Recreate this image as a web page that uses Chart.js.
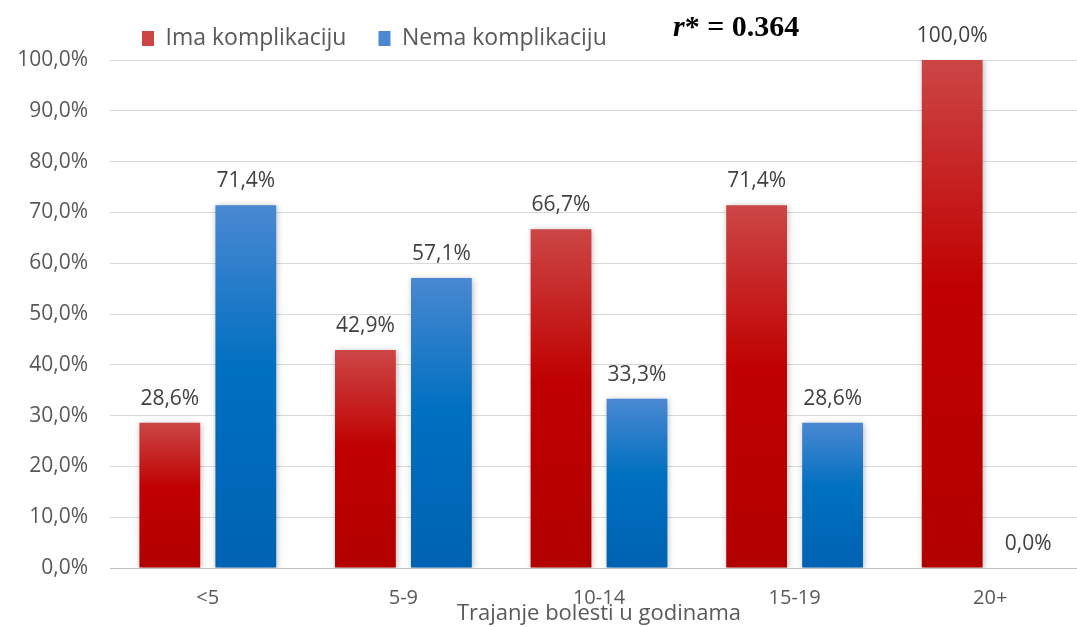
<!DOCTYPE html>
<html>
<head>
<meta charset="utf-8">
<script src="https://cdn.jsdelivr.net/npm/chart.js@4/dist/chart.umd.min.js"></script>
<style>
  html, body { margin: 0; padding: 0; background: #fff; overflow: hidden; }
  #wrap { width: 1100px; height: 627px; position: relative; }
</style>
</head>
<body>
<div id="wrap"><canvas id="barChart"></canvas></div>
<script>
var categories = ["<5", "5-9", "10-14", "15-19", "20+"];
var imaKomplikaciju = [28.6, 42.9, 66.7, 71.4, 100.0];
var nemaKomplikaciju = [71.4, 57.1, 33.3, 28.6, 0.0];
var seriesNames = ["Ima komplikaciju", "Nema komplikaciju"];
var axisTitle = "Trajanje bolesti u godinama";
var correlationText = "r* = 0.364";

var FONT = "'Open Sans', Roboto, sans-serif";

function pct(v) {
  return v.toFixed(1).replace(".", ",") + "%";
}

// office style vertical gradient, one per bar
function barGradient(top, mid, bottom) {
  return function (context) {
    var chart = context.chart;
    var area = chart.chartArea;
    if (!area || context.type !== "data") return mid;
    var y = chart.scales.y;
    var y0 = y.getPixelForValue(0);
    var y1 = y.getPixelForValue(context.raw);
    if (y0 - y1 < 1) return mid;
    var g = chart.ctx.createLinearGradient(0, y1, 0, y0);
    g.addColorStop(0, top);
    g.addColorStop(0.45, mid);
    g.addColorStop(1, bottom);
    return g;
  };
}

var barShadow = {
  id: "barShadow",
  beforeDatasetsDraw: function (chart) {
    var ctx = chart.ctx;
    ctx.save();
    ctx.shadowColor = "rgba(0,0,0,0.28)";
    ctx.shadowBlur = 6;
    ctx.shadowOffsetX = 1;
    ctx.shadowOffsetY = 1;
  },
  afterDatasetsDraw: function (chart) {
    chart.ctx.restore();
  }
};

var valueLabels = {
  id: "valueLabels",
  afterDatasetsDraw: function (chart) {
    var ctx = chart.ctx;
    ctx.save();
    ctx.font = "21px " + FONT;
    ctx.fillStyle = "#404040";
    ctx.textAlign = "center";
    ctx.textBaseline = "middle";
    chart.data.datasets.forEach(function (ds, i) {
      chart.getDatasetMeta(i).data.forEach(function (bar, j) {
        ctx.fillText(pct(ds.data[j]), bar.x, bar.y - 24);
      });
    });
    ctx.restore();
  }
};

var corrNote = {
  id: "corrNote",
  afterDraw: function (chart) {
    var ctx = chart.ctx;
    ctx.save();
    ctx.fillStyle = "#000";
    ctx.textBaseline = "middle";
    var x = 673, y = 28;
    ctx.font = "italic bold 30px 'Liberation Serif', serif";
    ctx.fillText(correlationText.charAt(0), x, y);
    x += ctx.measureText(correlationText.charAt(0)).width;
    ctx.font = "bold 30px 'Liberation Serif', serif";
    ctx.fillText(correlationText.slice(1), x, y);
    ctx.restore();
  }
};

var ctx = document.getElementById("barChart").getContext("2d");
var myChart = new Chart(ctx, {
  type: "bar",
  data: {
    labels: categories,
    datasets: [
      {
        label: seriesNames[0],
        data: imaKomplikaciju,
        backgroundColor: barGradient("#CC4646", "#C00000", "#B20000"),
        borderWidth: 0,
        barPercentage: 0.8,
        categoryPercentage: 0.777
      },
      {
        label: seriesNames[1],
        data: nemaKomplikaciju,
        backgroundColor: barGradient("#4A88D2", "#0070C0", "#0062B2"),
        borderWidth: 0,
        barPercentage: 0.8,
        categoryPercentage: 0.777
      }
    ]
  },
  options: {
    responsive: true,
    maintainAspectRatio: false,
    animation: false,
    layout: { padding: { left: 0, right: 12, top: -5, bottom: 0 } },
    plugins: {
      legend: {
        position: "top",
        align: "start",
        fullSize: false,
        labels: {
          boxWidth: 12,
          boxHeight: 15,
          padding: 32,
          color: "#595959",
          font: { family: FONT, size: 23 }
        }
      },
      tooltip: { enabled: false }
    },
    scales: {
      x: {
        afterFit: function (scale) { scale.height = 59; },
        grid: { display: false },
        border: { display: true, color: "#bfbfbf", width: 1 },
        ticks: { color: "#595959", font: { family: FONT, size: 20 }, padding: 10 },
        title: {
          display: true,
          text: axisTitle,
          color: "#595959",
          font: { family: FONT, size: 22 },
          padding: { top: 0, bottom: 0 }
        }
      },
      y: {
        min: 0,
        max: 100,
        afterFit: function (scale) { scale.width = 110; },
        ticks: {
          stepSize: 10,
          color: "#595959",
          font: { family: FONT, size: 21 },
          padding: 22,
          callback: function (v) { return pct(v); }
        },
        grid: { color: "#d9d9d9", drawTicks: false },
        border: { display: false }
      }
    }
  },
  plugins: [barShadow, valueLabels, corrNote]
});
</script>
</body>
</html>
